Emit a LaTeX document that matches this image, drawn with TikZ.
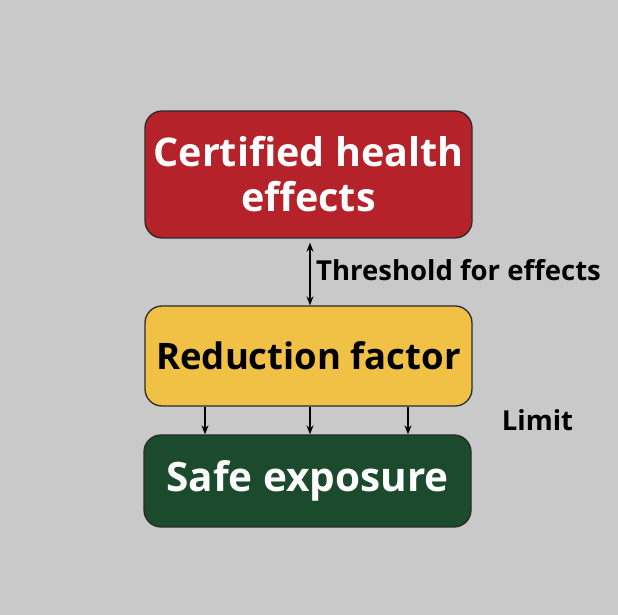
\documentclass[tikz,border=0pt]{standalone}
\usepackage{fontspec}
\setmainfont{Open Sans}
\usetikzlibrary{arrows.meta}
\definecolor{bg}{HTML}{C9C9C9}
\definecolor{boxred}{HTML}{B5222A}
\definecolor{boxyellow}{HTML}{F0C145}
\definecolor{boxgreen}{HTML}{1B4A2D}
\definecolor{edge}{HTML}{2A2A2A}
\begin{document}
\begin{tikzpicture}[x=1pt,y=1pt,
  stagebox/.style={draw=edge, line width=1.3pt, rounded corners=17pt, inner sep=0pt,
    minimum width=327pt, align=center, font=\fontsize{38}{45}\selectfont\bfseries},
  lbl/.style={font=\fontsize{27.5}{32}\selectfont\bfseries, text=black, inner sep=0pt},
  tip/.style={Stealth[length=9pt,width=7pt]},
  conn/.style={-{Stealth[length=9pt,width=7pt]}, line width=1.3pt, black}]
\fill[bg] (0,0) rectangle (618,615);
\useasboundingbox (0,0) rectangle (618,615);
\node[stagebox, fill=boxred, text=white, minimum height=127pt, font=\fontsize{39.5}{45}\selectfont\bfseries] (cert) at (308.5,440.5) {Certified health\\effects};
\node[stagebox, fill=boxyellow, text=black, minimum height=100pt, font=\fontsize{36.5}{44}\selectfont\bfseries] (red) at (308.5,259) {Reduction factor};
\node[stagebox, fill=boxgreen, text=white, minimum height=92pt, font=\fontsize{40.5}{46}\selectfont\bfseries] (safe) at (307.5,134) {Safe exposure};
\draw[conn, {Stealth[length=9pt,width=7pt]}-{Stealth[length=9pt,width=7pt]}] ([yshift=-4pt]cert.south -| 310,0) -- (red.north -| 310,0);
\node[lbl, anchor=west] (thr) at (316,345) {Threshold for effects};
\draw[conn] (red.south -| 205,0) -- (safe.north -| 205,0);
\draw[conn] (red.south -| 310,0) -- (safe.north -| 310,0);
\draw[conn] (red.south -| 408,0) -- (safe.north -| 408,0);
\node[lbl] (lim) at (537.5,195) {Limit};
\end{tikzpicture}
\end{document}
